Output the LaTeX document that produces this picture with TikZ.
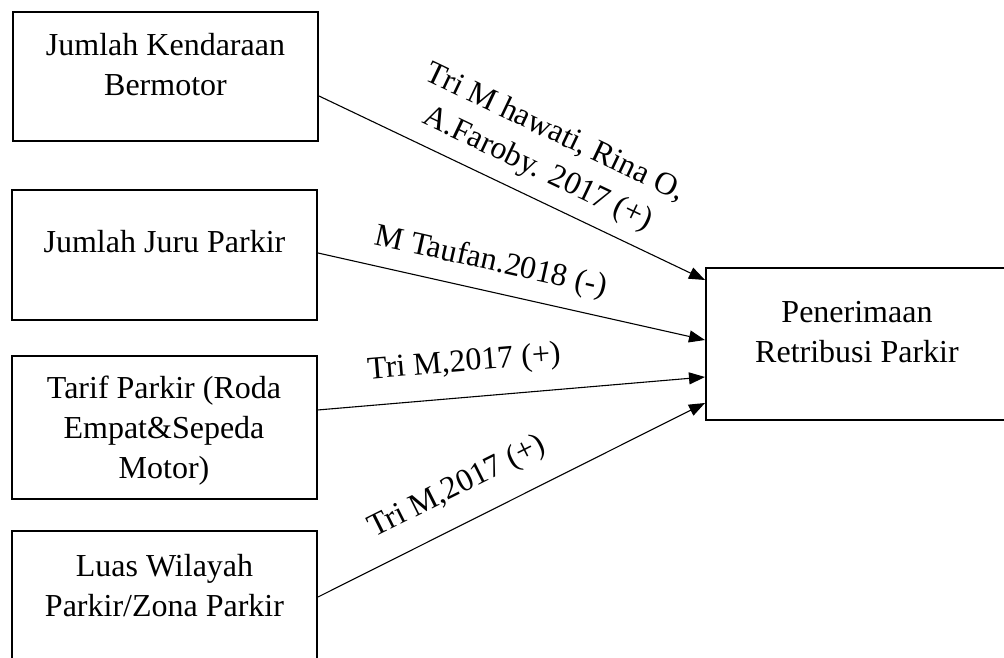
\documentclass[tikz,border=0pt]{standalone}
\usepackage{fontspec}
\setmainfont{Liberation Serif}
\usetikzlibrary{arrows.meta,positioning}
\tikzset{
    var-box/.style = {draw, line width=2pt, rectangle, inner sep=0pt, minimum width=305pt},
    var-text/.style = {align=center, inner sep=0pt, font=\fontsize{32}{40}\selectfont},
    cite-arrow/.style = {-{Triangle[length=16pt,width=12pt]}, line width=1.1pt},
    cite-label/.style = {sloped, inner sep=0pt, align=center, font=\fontsize{32}{40}\selectfont},
}

\begin{document}
\begin{tikzpicture}[x=1pt,y=-1pt]
\useasboundingbox (0,0) rectangle (1004,658);
\clip (0,0) rectangle (1004,658);

% variable boxes
\node [var-box, minimum height=129pt] (kendaraan) at (165.5,76.5) {};
\node [var-box, minimum height=130pt] (juru) at (164.5,255) {};
\node [var-box, minimum height=143pt] (tarif) at (164,427.5) {};
\node [var-box, minimum height=159pt] (luas) at (164.5,610.5) {};
\node [var-box, minimum width=302pt, minimum height=152pt] (retribusi) at (857,344) {};

\node [var-text] (kendaraan-text) at (165.5,65) {Jumlah Kendaraan\\Bermotor};
\node [var-text] (juru-text) at (164.5,242) {Jumlah Juru Parkir};
\node [var-text] (tarif-text) at (164,430.5) {Tarif Parkir (Roda\\Empat\&Sepeda\\Motor)};
\node [var-text] (luas-text) at (164.5,586) {Luas Wilayah\\Parkir/Zona Parkir};
\node [var-text] (retribusi-text) at (857,332) {Penerimaan\\Retribusi Parkir};

% arrows with sources
\draw [cite-arrow] ([yshift=-19.5pt]kendaraan.east) -- ([yshift=64pt]retribusi.west)
    node [cite-label, pos=0.536, above=12.5pt] (kendaraan-cite) {Tri M hawati, Rina O,\\A.Faroby. 2017 (+)};
\draw [cite-arrow] ([yshift=2pt]juru.east) -- ([yshift=4pt]retribusi.west)
    node [cite-label, pos=0.43, above=13.5pt] (juru-cite) {M Taufan.2018 (-)};
\draw [cite-arrow] ([yshift=17.5pt]tarif.east) -- ([yshift=-33pt]retribusi.west)
    node [cite-label, pos=0.386, above=19pt] (tarif-cite) {Tri M,2017 (+)};
\draw [cite-arrow] ([yshift=13.5pt]luas.east) -- ([yshift=-59pt]retribusi.west)
    node [cite-label, pos=0.401, above=20.5pt] (luas-cite) {Tri M,2017 (+)};
\end{tikzpicture}
\end{document}
